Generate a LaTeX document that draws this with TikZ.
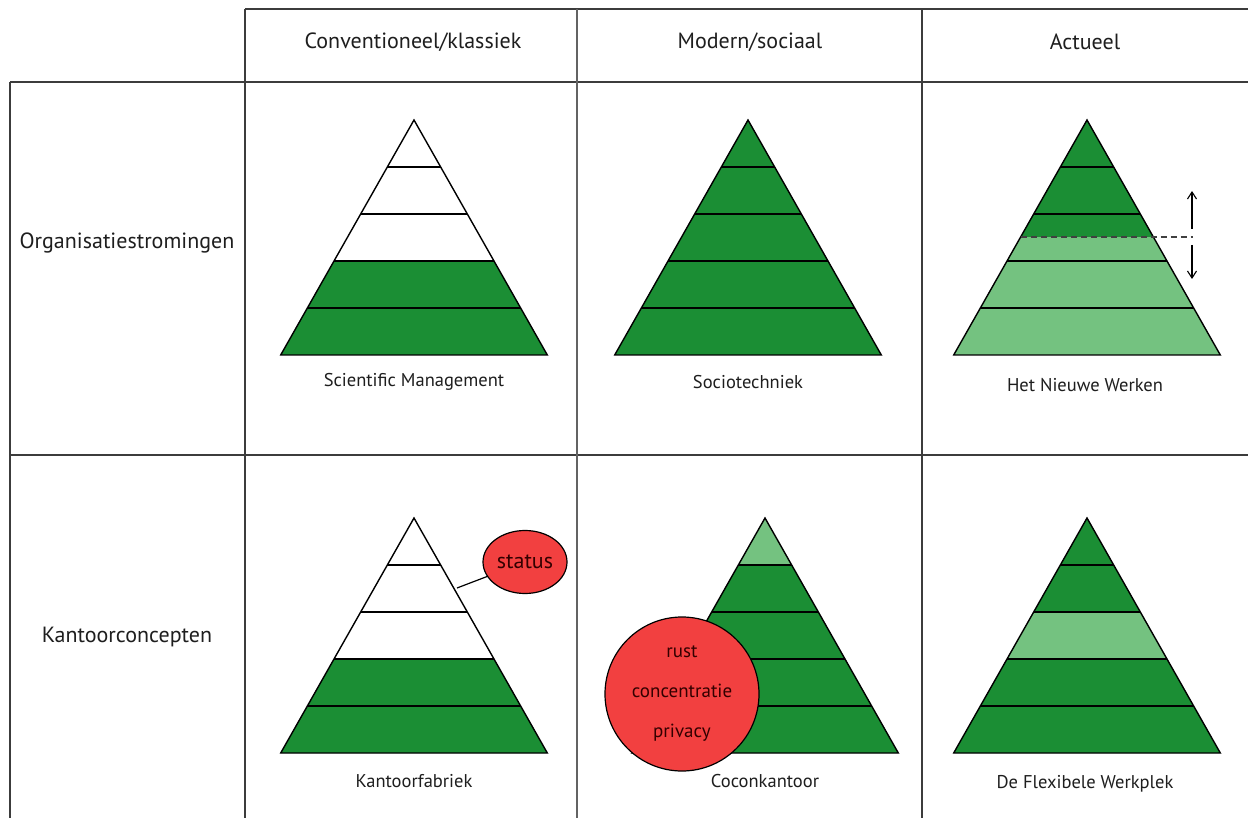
\documentclass[tikz,border=0pt]{standalone}
\usepackage{fontspec}
\setmainfont{PT Sans}
\usetikzlibrary{shapes.geometric,arrows.meta}

\definecolor{darkgreen}{RGB}{27,142,52}
\definecolor{lightgreen}{RGB}{116,194,128}
\definecolor{bubblered}{RGB}{242,64,64}
\definecolor{gridgray}{RGB}{60,60,60}
\definecolor{textgray}{RGB}{30,30,30}

\tikzset{
  gridline/.style={draw=gridgray, line width=1.8pt},
  layerline/.style={draw=black, line width=1.3pt},
  pyrline/.style={draw=black, line width=1.4pt, line join=miter},
  header/.style={font=\fontsize{22}{26}\selectfont, text=textgray},
  rowlabel/.style={font=\fontsize{22}{26}\selectfont, text=textgray},
  caption/.style={font=\fontsize{18.5}{22}\selectfont, text=textgray},
  bubble/.style={draw=black, line width=1.2pt, fill=bubblered, text=black!80!red},
}

% apex x, apex y, fills of the five layers from top to bottom
\newcommand\drawpyramid[3]{%
  \foreach \c [count=\i] in {#3}{
    \fill[\c] ({#1-26.66*(\i-1)},{#2+47*(\i-1)}) -- ({#1+26.66*(\i-1)},{#2+47*(\i-1)})
      -- ({#1+26.66*\i},{#2+47*\i}) -- ({#1-26.66*\i},{#2+47*\i}) -- cycle;
  }
  \foreach \i in {1,...,4}
    \draw[layerline] ({#1-26.66*\i},{#2+47*\i}) -- ({#1+26.66*\i},{#2+47*\i});
  \draw[pyrline] (#1,#2) -- ({#1+133.3},{#2+235}) -- ({#1-133.3},{#2+235}) -- cycle;
}

\begin{document}
\begin{tikzpicture}[x=1pt, y=-1pt]
\useasboundingbox (0,0) rectangle (1248,818);
\fill[white] (0,0) rectangle (1248,818);

% table grid
\draw[gridline] (245,9) -- (1248,9);
\draw[gridline] (10,82) -- (1248,82);
\draw[gridline] (10,455) -- (1248,455);
\draw[gridline] (10,82) -- (10,818);
\draw[gridline] (245,9) -- (245,818);
\draw[gridline, draw=gridgray!80] (577,9) -- (577,818);
\draw[gridline] (922,9) -- (922,818);

% column and row headings
\node[header] (hconv) at (413,42) {Conventioneel/klassiek};
\node[header] (hmod) at (750,42) {Modern/sociaal};
\node[header] (hact) at (1085,42) {Actueel};
\node[rowlabel] (rorg) at (127,243) {Organisatiestromingen};
\node[rowlabel] (rkan) at (127,637) {Kantoorconcepten};

% organisation theories
\drawpyramid{414}{120}{white,white,white,darkgreen,darkgreen}
\drawpyramid{748}{120}{darkgreen,darkgreen,darkgreen,darkgreen,darkgreen}
\fill[lightgreen] ({1087-66.4},237) -- ({1087+66.4},237) -- ({1087+133.3},355) -- ({1087-133.3},355) -- cycle;
\fill[darkgreen] (1087,120) -- ({1087+66.4},237) -- ({1087-66.4},237) -- cycle;
\foreach \i in {1,...,4}
  \draw[layerline] ({1087-26.66*\i},{120+47*\i}) -- ({1087+26.66*\i},{120+47*\i});
\draw[pyrline] (1087,120) -- ({1087+133.3},355) -- ({1087-133.3},355) -- cycle;
\draw[line width=1.3pt, dash pattern=on 6pt off 4pt, draw=black!75] ({1087-66.4},237) -- (1193,237);
\draw[line width=1.1pt, -{Straight Barb[length=7pt, width=9pt]}] (1192,229) -- (1192,191);
\draw[line width=1.1pt, -{Straight Barb[length=7pt, width=9pt]}] (1192,245) -- (1192,279);

\node[caption] (csm) at (414,382) {Scientific Management};
\node[caption] (cst) at (748,382) {Sociotechniek};
\node[caption] (cnw) at (1085,385) {Het Nieuwe Werken};

% office concepts
\drawpyramid{414}{518}{white,white,white,darkgreen,darkgreen}
\coordinate (sedge) at (457,588);
\node[bubble, ellipse, minimum width=84pt, minimum height=63pt, inner sep=0pt,
      font=\fontsize{22}{26}\selectfont] (status) at (525,562) {status};
\draw[line width=1.2pt] (sedge) -- (status);

\drawpyramid{765}{518}{lightgreen,darkgreen,darkgreen,darkgreen,darkgreen}
\node[bubble, circle, minimum size=154pt, inner sep=0pt, align=center,
      font=\fontsize{19}{40}\selectfont] (cocon) at (682,694) {rust\\concentratie\\privacy};

\drawpyramid{1087}{518}{darkgreen,darkgreen,lightgreen,darkgreen,darkgreen}

\node[caption] (ckf) at (414,781) {Kantoorfabriek};
\node[caption] (cck) at (765,781) {Coconkantoor};
\node[caption] (cfw) at (1085,784) {De Flexibele Werkplek};
\end{tikzpicture}
\end{document}
